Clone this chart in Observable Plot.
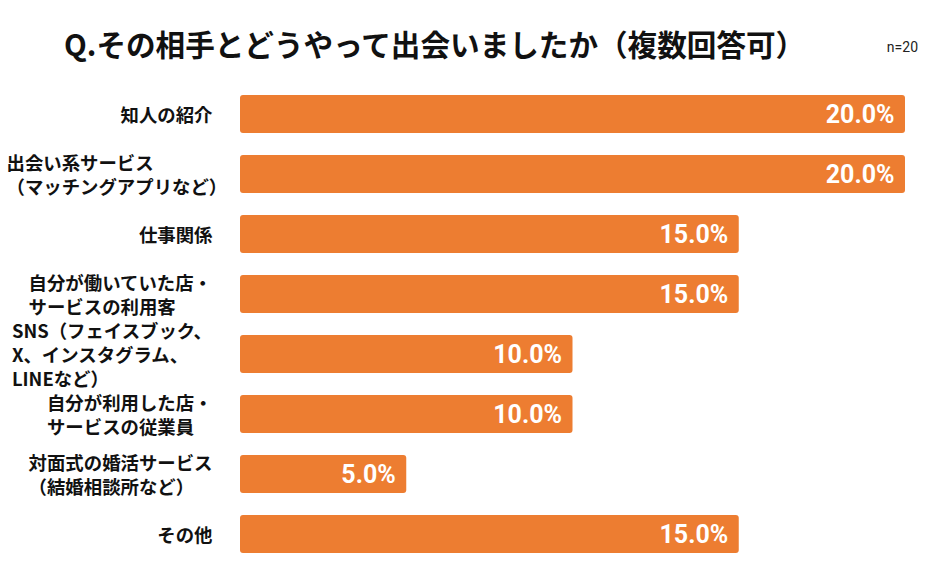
<!DOCTYPE html>
<html>
<head>
<meta charset="utf-8">
<script src="https://cdn.jsdelivr.net/npm/d3@7"></script>
<script src="https://cdn.jsdelivr.net/npm/@observablehq/plot@0.6"></script>
<style>
  html, body { margin: 0; padding: 0; background: #fff; }
  #wrap { width: 934px; }
  #head { position: relative; height: 72px; font-family: "Noto Sans CJK JP", sans-serif; }
  #title { position: absolute; left: 64px; top: 23px; line-height: 42px; font-size: 29.6px; font-weight: bold; color: #111; white-space: nowrap; }
  #n { position: absolute; right: 16px; top: 37px; line-height: 20px; font-size: 14px; color: #222; font-family: Roboto, sans-serif; }
</style>
</head>
<body>
<div id="wrap">
  <div id="head">
    <div id="title">Q.その相手とどうやって出会いましたか（複数回答可）</div>
    <div id="n">n=20</div>
  </div>
  <div id="chart"></div>
</div>
<script>
const categories = [
  "知人の紹介",
  "出会い系サービス\n（マッチングアプリなど）",
  "仕事関係",
  "自分が働いていた店・\nサービスの利用客",
  "SNS（フェイスブック、\nX、インスタグラム、\nLINEなど）",
  "自分が利用した店・\nサービスの従業員",
  "対面式の婚活サービス\n（結婚相談所など）",
  "その他"
];
const values = [20.0, 20.0, 15.0, 15.0, 10.0, 10.0, 5.0, 15.0];

const data = categories.map((c, i) => ({category: c, value: values[i]}));
const barColor = "#ED7D31";
const labelFont = "'Noto Sans CJK JP', sans-serif";
const labelSize = 18.4;
const marginLeft = 240;

// measure label blocks: block right edge near 212px, lines left-aligned, never past the left edge
const ctx = document.createElement("canvas").getContext("2d");
ctx.font = `bold ${labelSize}px ${labelFont}`;
const blockWidth = s => Math.max(...s.split("\n").map(l => ctx.measureText(l).width));

const labelMarks = categories.map(c => {
  const left = Math.max(6, 212 - blockWidth(c));
  return Plot.text([c], {
    y: d => d, text: d => d, frameAnchor: "left", textAnchor: "start", dx: left - marginLeft,
    lineAnchor: "middle", lineHeight: 1.3, fontSize: labelSize, fontWeight: "bold", fill: "#111"
  });
});

const chart = Plot.plot({
  width: 934,
  height: 511,
  marginLeft,
  marginRight: 29,
  marginTop: 0,
  marginBottom: 7,
  style: {fontFamily: labelFont, background: "white"},
  x: {domain: [0, 20], axis: null},
  y: {domain: categories, padding: 0.37, axis: null},
  marks: [
    Plot.barX(data, {x: "value", y: "category", fill: barColor, rx: 3}),
    ...labelMarks,
    Plot.text(data, {
      x: "value", y: "category", text: d => d.value.toFixed(1) + "%",
      textAnchor: "end", dx: -11, fill: "white", fontSize: 25, fontWeight: "bold",
      fontFamily: "Roboto, sans-serif"
    })
  ]
});
document.getElementById("chart").appendChild(chart);
</script>
</body>
</html>
